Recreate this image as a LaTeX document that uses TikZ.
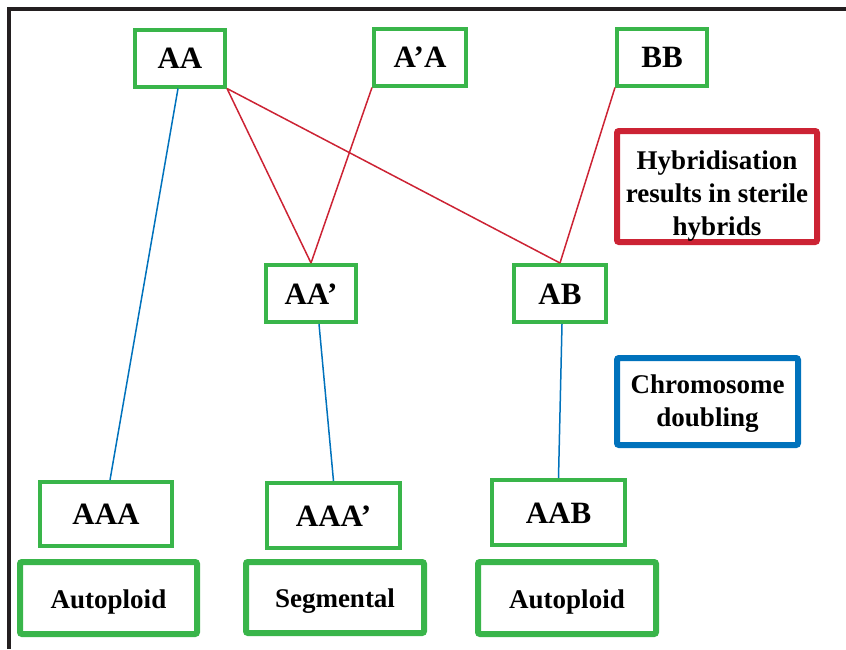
\documentclass[tikz,border=0pt]{standalone}
\usepackage{fontspec}
\setmainfont{Liberation Serif}

\definecolor{boxgreen}{RGB}{57,181,74}
\definecolor{crossred}{RGB}{204,35,52}
\definecolor{dblblue}{RGB}{0,114,188}
\definecolor{framegray}{RGB}{35,31,32}

\begin{document}
\begin{tikzpicture}[x=1pt,y=-1pt,
    genome/.style={draw=boxgreen,line width=4pt,inner sep=0pt,minimum width=90pt,minimum height=57pt,text height=21pt,text depth=0pt,font=\fontsize{31}{36}\selectfont\bfseries},
    polyploid/.style={genome,minimum width=133pt,minimum height=65pt},
    kind/.style={draw=boxgreen,line width=6pt,rounded corners=2pt,inner sep=0pt,minimum width=178pt,minimum height=72pt,text height=20pt,text depth=0pt,font=\fontsize{27}{33}\selectfont\bfseries},
    note/.style={line width=6pt,rounded corners=2pt,inner sep=0pt,align=center,font=\fontsize{27}{33}\selectfont\bfseries},
    cross/.style={crossred,line width=1.5pt},
    double/.style={dblblue,line width=1.5pt}]

\useasboundingbox (0,0) rectangle (846,649);

% Frame (cut off on the right and at the bottom)
\draw[framegray,line width=4pt] (9,649) -- (9,9) -- (846,9);

% Parent genomes
\node[genome] (AA) at (180,58) {AA};
\node[genome,minimum width=92pt] (ApA) at (420,57) {A'A};
\node[genome] (BB) at (662,57) {BB};

% Sterile hybrids
\node[genome] (AAp) at (311,293.5) {AA'};
\node[genome,minimum width=92pt] (AB) at (560,293.5) {AB};

% Polyploids
\node[polyploid,minimum width=132pt,minimum height=64pt] (AAA) at (106,514) {AAA};
\node[polyploid] (AAAp) at (333.5,515.5) {AAA'};
\node[polyploid] (AAB) at (558.5,512.5) {AAB};

% Kinds of polyploid
\node[kind,minimum width=177pt] (auto1) at (108.5,598) {Autoploid};
\node[kind,minimum height=71pt] (segm) at (335,597.5) {Segmental};
\node[kind] (auto2) at (567,598) {Autoploid};

% Legend
\node[note,draw=crossred,minimum width=200pt,minimum height=111pt] (hyb) at (717,186.5) {\rule{0pt}{38pt}Hybridisation\\results in sterile\\hybrids};
\node[note,draw=dblblue,minimum width=181pt,minimum height=87pt] (chrom) at (707.5,401.5) {\rule{0pt}{22pt}Chromosome\\doubling};

% Hybridisation
\draw[cross] (AA.south east) -- (AAp.north);
\draw[cross] (AA.south east) -- (AB.north);
\draw[cross] (ApA.south west) -- (AAp.north);
\draw[cross] (BB.south west) -- (AB.north);

% Chromosome doubling
\draw[double] ([xshift=-2pt]AA.south) -- ([xshift=4pt]AAA.north);
\draw[double] ([xshift=8pt]AAp.south) -- (AAAp.north);
\draw[double] ([xshift=2pt]AB.south) -- (AAB.north);

\end{tikzpicture}
\end{document}
